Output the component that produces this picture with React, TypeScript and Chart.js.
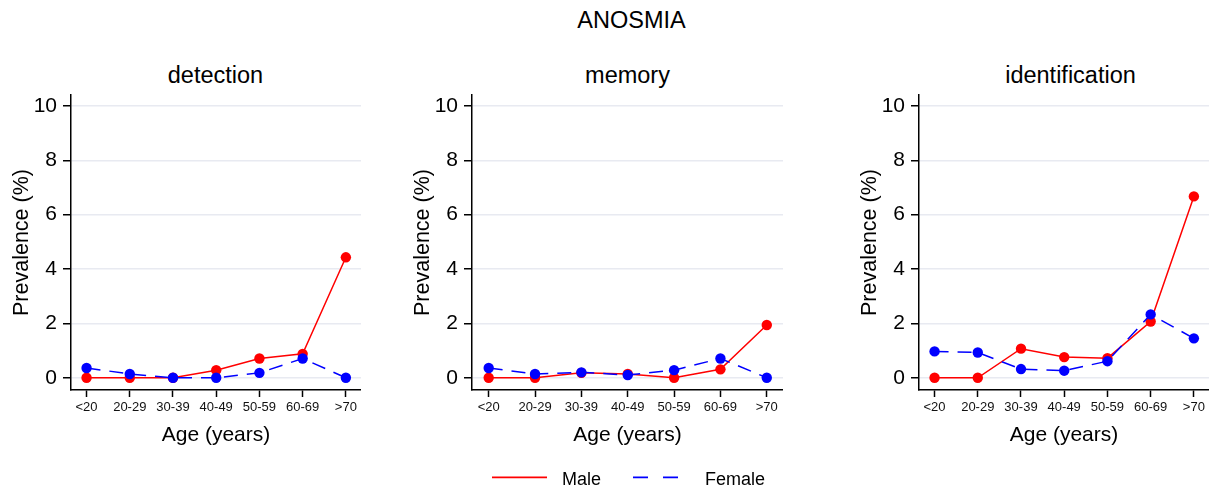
import React, { useEffect, useRef } from 'react';
import { Chart, registerables } from 'chart.js';

Chart.register(...registerables);

// ---- Data ----
const ageGroups = ['<20', '20-29', '30-39', '40-49', '50-59', '60-69', '>70'];
const yTicks = [0, 2, 4, 6, 8, 10];

const detectionMale = [0, 0, 0, 0.28, 0.71, 0.88, 4.43];
const detectionFemale = [0.36, 0.14, 0, 0, 0.18, 0.71, 0];

const memoryMale = [0, 0, 0.18, 0.14, 0, 0.31, 1.94];
const memoryFemale = [0.36, 0.14, 0.2, 0.1, 0.28, 0.71, 0];

const identificationMale = [0, 0, 1.07, 0.76, 0.72, 2.07, 6.67];
const identificationFemale = [0.97, 0.93, 0.32, 0.26, 0.61, 2.33, 1.45];

const mainTitle = 'ANOSMIA';
const xTitle = 'Age (years)';
const yTitle = 'Prevalence (%)';
const maleLabel = 'Male';
const femaleLabel = 'Female';

const FONT = '"Liberation Sans", Arial, Helvetica, sans-serif';
const RED = '#ff0000';
const BLUE = '#0000ff';

type PanelSpec = {
  title: string;
  male: number[];
  female: number[];
  left: number;
  width: number;
  titleX: number;
};

const panels: PanelSpec[] = [
  { title: 'detection', male: detectionMale, female: detectionFemale, left: 0, width: 361, titleX: 215.5 },
  { title: 'memory', male: memoryMale, female: memoryFemale, left: 401.3, width: 381.7, titleX: 627.5 },
  { title: 'identification', male: identificationMale, female: identificationFemale, left: 848, width: 361, titleX: 1070.5 },
];

function makeConfig(male: number[], female: number[]): any {
  const toPts = (arr: number[]) => arr.map((v, i) => ({ x: i, y: v }));
  const common = {
    borderWidth: 1.5,
    pointRadius: 5.2,
    pointBorderWidth: 0,
    pointHoverRadius: 5.2,
    tension: 0,
    fill: false,
    clip: false,
  };
  return {
    type: 'line',
    data: {
      datasets: [
        {
          ...common,
          label: femaleLabel,
          data: toPts(female),
          borderColor: BLUE,
          backgroundColor: BLUE,
          pointBackgroundColor: BLUE,
          borderDash: [14, 9],
        },
        {
          ...common,
          label: maleLabel,
          data: toPts(male),
          borderColor: RED,
          backgroundColor: RED,
          pointBackgroundColor: RED,
        },
      ],
    },
    options: {
      animation: false,
      responsive: false,
      maintainAspectRatio: false,
      layout: { autoPadding: false, padding: { top: 95, left: 0, right: 0, bottom: 0 } },
      plugins: {
        legend: { display: false },
        tooltip: { enabled: false },
        title: { display: false },
      },
      scales: {
        x: {
          type: 'linear',
          min: -0.36,
          max: 6.35,
          afterBuildTicks: (s: any) => {
            s.ticks = ageGroups.map((_, i) => ({ value: i }));
          },
          afterFit: (s: any) => {
            s.height = 98;
            s.paddingLeft = 0;
            s.paddingRight = 0;
          },
          ticks: {
            callback: (v: any) => ageGroups[v] ?? '',
            font: { family: FONT, size: 13 },
            color: '#111',
            padding: 3,
            maxRotation: 0,
            minRotation: 0,
            autoSkip: false,
          },
          grid: {
            drawOnChartArea: false,
            tickColor: '#000',
            tickLength: 7,
            tickWidth: 1.5,
          },
          border: { display: true, color: '#000', width: 1.5 },
          title: {
            display: true,
            text: xTitle,
            font: { family: FONT, size: 21 },
            color: '#000',
            padding: { top: 0, bottom: 40 },
          },
        },
        y: {
          type: 'linear',
          min: -0.45,
          max: 10.4,
          afterBuildTicks: (s: any) => {
            s.ticks = yTicks.map((v) => ({ value: v }));
          },
          afterFit: (s: any) => {
            s.width = 71;
            s.paddingTop = 0;
            s.paddingBottom = 0;
          },
          ticks: {
            callback: (v: any) => String(v),
            font: { family: FONT, size: 21 },
            color: '#000',
            padding: 6,
          },
          grid: {
            color: '#e8eaf1',
            lineWidth: 1.5,
            tickColor: '#000',
            tickLength: 8,
            tickWidth: 1.5,
          },
          border: { display: true, color: '#000', width: 1.5 },
          title: {
            display: true,
            text: yTitle,
            font: { family: FONT, size: 21.5 },
            color: '#000',
            padding: { top: 9.5, bottom: 0 },
          },
        },
      },
    },
  };
}

export default function App() {
  const r0 = useRef<HTMLCanvasElement | null>(null);
  const r1 = useRef<HTMLCanvasElement | null>(null);
  const r2 = useRef<HTMLCanvasElement | null>(null);
  const refs = [r0, r1, r2];

  useEffect(() => {
    const charts: Chart[] = [];
    panels.forEach((p, i) => {
      const c = refs[i].current;
      if (c) charts.push(new Chart(c, makeConfig(p.male, p.female)));
    });
    return () => charts.forEach((ch) => ch.destroy());
  }, []);

  return (
    <div
      style={{
        position: 'absolute',
        left: 0,
        top: 0,
        width: 1211,
        height: 488,
        background: '#fff',
        fontFamily: FONT,
        color: '#000',
        overflow: 'hidden',
      }}
    >
      <div
        style={{
          position: 'absolute',
          left: 431.5,
          top: 6.3,
          width: 400,
          textAlign: 'center',
          fontSize: 23.5,
          lineHeight: '28px',
        }}
      >
        {mainTitle}
      </div>
      {panels.map((p, i) => (
        <React.Fragment key={p.title}>
          <div
            style={{
              position: 'absolute',
              left: p.titleX - 150,
              top: 61.2,
              width: 300,
              textAlign: 'center',
              fontSize: 23.5,
              lineHeight: '28px',
            }}
          >
            {p.title}
          </div>
          <canvas
            ref={refs[i]}
            width={Math.round(p.width)}
            height={488}
            style={{ position: 'absolute', left: p.left, top: 0, display: 'block' }}
          />
        </React.Fragment>
      ))}
      <svg
        width={1211}
        height={488}
        style={{ position: 'absolute', left: 0, top: 0, pointerEvents: 'none' }}
      >
        <line x1={492} y1={477.3} x2={547} y2={477.3} stroke={RED} strokeWidth={1.8} />
        <line
          x1={633}
          y1={477.3}
          x2={682}
          y2={477.3}
          stroke={BLUE}
          strokeWidth={1.8}
          strokeDasharray="15 15"
        />
      </svg>
      <div style={{ position: 'absolute', left: 562, top: 467.8, fontSize: 18, lineHeight: '22px' }}>
        {maleLabel}
      </div>
      <div style={{ position: 'absolute', left: 705, top: 467.8, fontSize: 18, lineHeight: '22px' }}>
        {femaleLabel}
      </div>
    </div>
  );
}
